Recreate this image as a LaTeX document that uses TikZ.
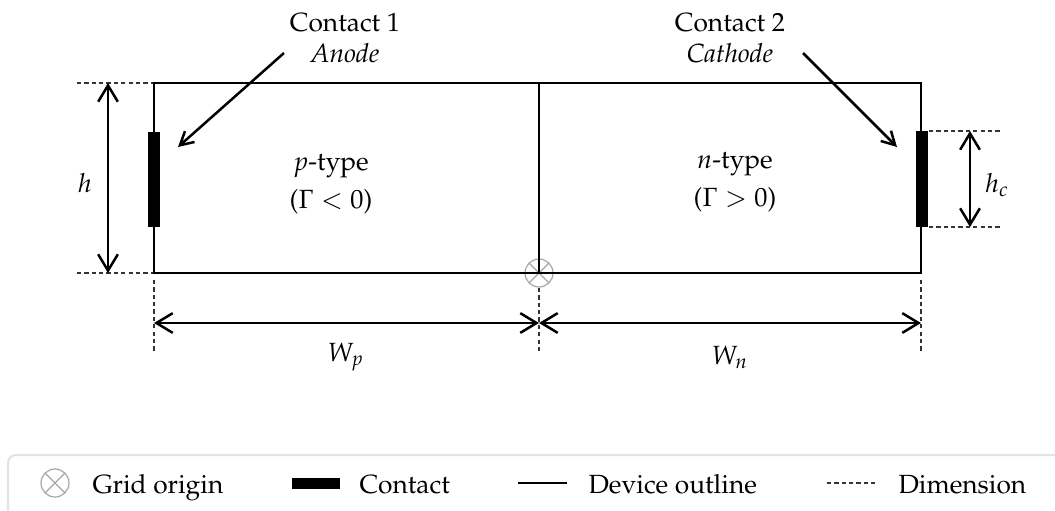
\documentclass[tikz,border=0pt]{standalone}
\usepackage[T1]{fontenc}
\usepackage{mathpazo}
\usetikzlibrary{arrows.meta}
\begin{document}
\begin{tikzpicture}[x=0.38pt,y=-0.38pt,
  outline/.style={line width=0.95pt},
  contactbar/.style={fill=black,draw=none},
  dimline/.style={line width=0.45pt, black!80, dash pattern=on 1.6pt off 1.2pt},
  dimarrow/.style={line width=0.95pt,{Straight Barb[length=6.2pt,width=7.5pt]}-{Straight Barb[length=6.2pt,width=7.5pt]}},
  callout/.style={line width=0.95pt,-{Straight Barb[length=5pt,width=5.5pt]}},
  lbl/.style={inner sep=0pt, align=center},
  legtext/.style={inner sep=0pt, anchor=base west},
  gridmark/.style={draw=black!35, line width=0.45pt}
]
\useasboundingbox (0,0) rectangle (1055,510);
\clip (0,0) rectangle (1055,510);

% key coordinates
\coordinate (TL) at (154,83);
\coordinate (BL) at (154,273);
\coordinate (TR) at (921,83);
\coordinate (BR) at (921,273);
\coordinate (TM) at (539,83);
\coordinate (O)  at (539,273);

% grid origin mark
\draw[gridmark] (O) circle[radius=14];
\draw[gridmark] (O) ++(45:14) -- ++(225:28);
\draw[gridmark] (O) ++(135:14) -- ++(315:28);

% device outline
\draw[outline] (TL) rectangle (BR);
\draw[outline] (TM) -- (O);

% contacts
\fill[contactbar] (148,132) rectangle (160,227);
\fill[contactbar] (916,131) rectangle (928,227);
\coordinate (C1) at (178,147);
\coordinate (C2) at (897,147);

% dimension extension lines
\draw[dimline] (77,83) -- (153,83);
\draw[dimline] (77,273) -- (153,273);
\draw[dimline] (154,280) -- (154,352);
\draw[dimline] (539,288) -- (539,352);
\draw[dimline] (921,280) -- (921,352);
\draw[dimline] (929,131) -- (1000,131);
\draw[dimline] (929,227) -- (1000,227);

% dimension arrows
\coordinate (hT) at (108,83);
\coordinate (hB) at (108,273);
\coordinate (hcT) at (970,131);
\coordinate (hcB) at (970,227);
\coordinate (wL) at (154,323);
\coordinate (wM) at (539,323);
\coordinate (wR) at (921,323);
\draw[dimarrow] (hT) -- (hB);
\draw[dimarrow] (hcT) -- (hcB);
\draw[dimarrow] (wL) -- (wM);
\draw[dimarrow] (wM) -- (wR);

% labels
\node[lbl] (h) at (85,183) {$h$};
\node[lbl] (hc) at (997,185) {$h_c$};
\node[lbl] (wp) at (346,357) {$W_p$};
\node[lbl] (wn) at (730,357) {$W_n$};
\node[lbl] (ptype) at (331,184) {$p$-type\\[2.4pt]($\Gamma<0$)};
\node[lbl] (ntype) at (735,182) {$n$-type\\[2.4pt]($\Gamma>0$)};

% contact callouts
\node[lbl] (c1) at (345,38) {Contact 1\\\textit{Anode}};
\node[lbl] (c2) at (730,38) {Contact 2\\\textit{Cathode}};
\coordinate (a1) at (284,53);
\coordinate (a2) at (803,53);
\draw[callout] (a1) -- (C1);
\draw[callout] (a2) -- (C2);

% legend
\draw[black!11, line width=0.8pt, rounded corners=3pt] (8,455) rectangle (1080,540);
\coordinate (LO) at (55,483);
\draw[gridmark] (LO) circle[radius=14];
\draw[gridmark] (LO) ++(45:14) -- ++(225:28);
\draw[gridmark] (LO) ++(135:14) -- ++(315:28);
\node[legtext] (lg1) at (92,493) {Grid origin};
\fill[contactbar] (292,478) rectangle (340,489);
\node[legtext] (lg2) at (359,493) {Contact};
\draw[outline] (518,483) -- (567,483);
\node[legtext] (lg3) at (588,493) {Device outline};
\draw[dimline] (827,483) -- (875,483);
\node[legtext] (lg4) at (898,493) {Dimension};
\end{tikzpicture}
\end{document}
